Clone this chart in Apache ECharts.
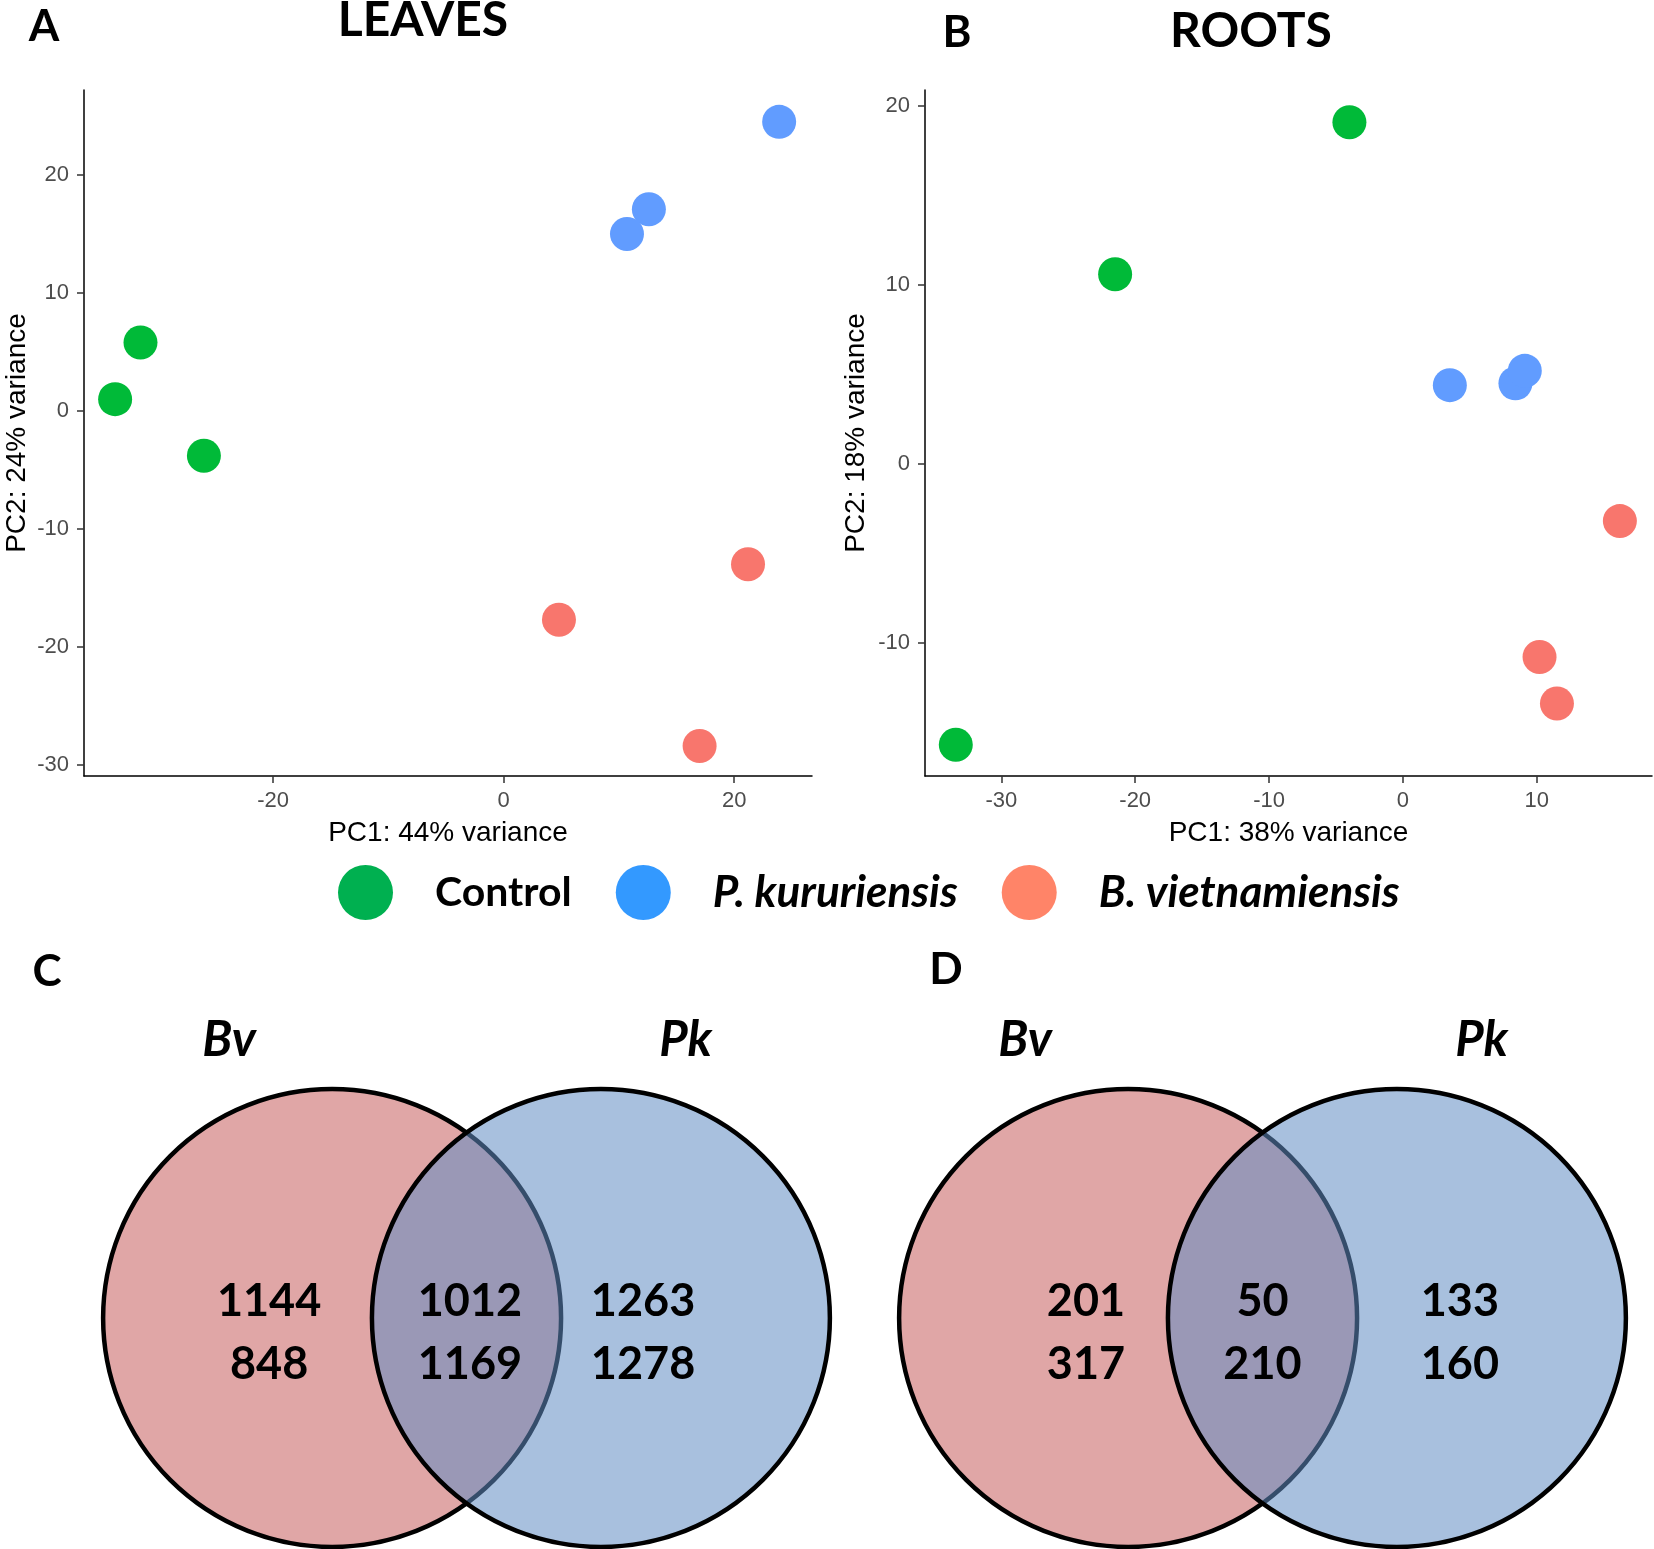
<!DOCTYPE html>
<html>
<head>
<meta charset="utf-8">
<script src="https://cdn.jsdelivr.net/npm/echarts@6/dist/echarts.min.js"></script>
<style>
html, body { margin: 0; padding: 0; background: #fff; }
#main { width: 1654px; height: 1549px; }
</style>
</head>
<body>
<div id="main"></div>
<script>
// PCA scores (PC1, PC2), leaves
var leavesControl = [[-31.5, 5.8], [-33.7, 1.0], [-26.0, -3.8]];
var leavesPk = [[23.9, 24.5], [12.6, 17.1], [10.7, 15.0]];
var leavesBv = [[21.2, -13.0], [4.8, -17.7], [17.0, -28.4]];
// PCA scores, roots
var rootsControl = [[-4.0, 19.1], [-21.5, 10.6], [-33.4, -15.7]];
var rootsPk = [[3.5, 4.4], [8.4, 4.5], [9.1, 5.2]];
var rootsBv = [[16.2, -3.2], [10.2, -10.8], [11.5, -13.4]];

var leavesXTicks = [-20, 0, 20];
var leavesYTicks = [-30, -20, -10, 0, 10, 20];
var rootsXTicks = [-30, -20, -10, 0, 10];
var rootsYTicks = [-10, 0, 10, 20];

var groups = ['Control', 'P. kururiensis', 'B. vietnamiensis'];

// DEG counts (two numbers per region)
var vennSets = ['Bv', 'Pk'];
var leavesBvOnly = [1144, 848];
var leavesShared = [1012, 1169];
var leavesPkOnly = [1263, 1278];
var rootsBvOnly = [201, 317];
var rootsShared = [50, 210];
var rootsPkOnly = [133, 160];

// colours / layout
var pointColors = ['#00BA38', '#619CFF', '#F8766D'];
var legendColors = ['#00B050', '#3399FF', '#FF8468'];
var vennFill = ['#E0A6A6', 'rgba(97,140,195,0.55)'];
var vennCenters = [-0.587, 0.587];
var setLabelDx = [-0.45, 0.37];
var setLabelY = 1.215;
var countY = -0.065;
var leavesCountX = [-0.862, 0.015, 0.771];
var rootsCountX = [-0.771, 0, 0.862];

var FONT = 'Lato, "Open Sans", sans-serif';
var AXFONT = '"Liberation Sans", Arial, sans-serif';

var myChart = echarts.init(document.getElementById('main'));

function pcaX(idx, min, max, ticks, name) {
    return {
        type: 'value', gridIndex: idx, min: min, max: max,
        name: name, nameLocation: 'middle', nameGap: 43,
        nameTextStyle: { fontFamily: AXFONT, fontSize: 28, color: '#000' },
        splitLine: { show: false },
        axisLine: { onZero: false, lineStyle: { color: '#000', width: 1.5 } },
        axisTick: { length: 7, lineStyle: { color: '#333', width: 1.5 }, customValues: ticks },
        axisLabel: { margin: 14, fontFamily: AXFONT, fontSize: 22, color: '#4D4D4D', customValues: ticks }
    };
}
function pcaY(idx, min, max, ticks, name, gap) {
    return {
        type: 'value', gridIndex: idx, min: min, max: max,
        name: name, nameLocation: 'middle', nameGap: gap, nameRotate: 90,
        nameTextStyle: { fontFamily: AXFONT, fontSize: 28, color: '#000' },
        splitLine: { show: false },
        axisLine: { onZero: false, lineStyle: { color: '#000', width: 1.5 } },
        axisTick: { length: 7, lineStyle: { color: '#333', width: 1.5 }, customValues: ticks },
        axisLabel: { margin: 15, fontFamily: AXFONT, fontSize: 22, color: '#4D4D4D', customValues: ticks }
    };
}
function hiddenAxis(idx, min, max) {
    return { type: 'value', gridIndex: idx, min: min, max: max, show: false };
}

function scatter(name, data, idx, color) {
    return {
        type: 'scatter', name: name, xAxisIndex: idx, yAxisIndex: idx,
        data: data, symbolSize: 34, itemStyle: { color: color, opacity: 1 }
    };
}

function vennCircles(idx) {
    return {
        type: 'custom', xAxisIndex: idx, yAxisIndex: idx, silent: true,
        data: vennSets.map(function (s, i) { return [vennCenters[i], 0, 1, i]; }),
        renderItem: function (params, api) {
            var i = api.value(3);
            var c = api.coord([api.value(0), api.value(1)]);
            var r = api.size([api.value(2), 0])[0];
            var lp = api.coord([api.value(0) + setLabelDx[i], setLabelY]);
            return {
                type: 'group',
                children: [{
                    type: 'circle',
                    shape: { cx: c[0], cy: c[1], r: r },
                    style: { fill: vennFill[i], stroke: '#000', lineWidth: 4.5 }
                }, {
                    type: 'text', x: lp[0], y: lp[1],
                    style: {
                        text: vennSets[i], align: 'center', verticalAlign: 'middle',
                        font: 'italic bold 49px ' + FONT, fill: '#000'
                    }
                }]
            };
        }
    };
}

function vennCounts(idx, xs, only1, shared, only2) {
    var regions = [only1, shared, only2];
    return {
        type: 'custom', xAxisIndex: idx, yAxisIndex: idx, silent: true, z: 5,
        data: regions.map(function (v, i) { return [xs[i], countY, v[0], v[1]]; }),
        renderItem: function (params, api) {
            var p = api.coord([api.value(0), api.value(1)]);
            return {
                type: 'text', x: p[0], y: p[1],
                style: {
                    text: api.value(2) + '\n' + api.value(3),
                    align: 'center', verticalAlign: 'middle',
                    font: 'bold 45px ' + FONT, lineHeight: 63, fill: '#000'
                }
            };
        }
    };
}

function label(text, x, y, size) {
    return {
        type: 'text', x: x, y: y,
        style: { text: text, font: 'bold ' + size + 'px ' + FONT, fill: '#000', align: 'center', verticalAlign: 'middle' }
    };
}

option = {
    animation: false,
    backgroundColor: '#fff',
    textStyle: { fontFamily: FONT },
    graphic: [
        label('A', 44, 27, 44),
        label('LEAVES', 423, 21, 48),
        label('B', 957, 33, 44),
        label('ROOTS', 1251, 32, 48),
        label('C', 47, 972, 44),
        label('D', 946, 970, 44)
    ],
    legend: {
        data: groups.map(function (g, i) { return { name: g, itemStyle: { color: legendColors[i] } }; }),
        left: 333, top: 860,
        icon: 'circle', itemWidth: 55, itemHeight: 55, itemGap: 44,
        selectedMode: false,
        formatter: function (n) { return (n === 'Control' ? '{n|' : '{i|') + n + '}'; },
        textStyle: {
            rich: {
                n: { fontFamily: FONT, fontWeight: 'bold', fontSize: 41, color: '#000', padding: [0, 0, 0, 37] },
                i: { fontFamily: FONT, fontWeight: 'bold', fontStyle: 'italic', fontSize: 44, color: '#000', padding: [0, 0, 0, 37] }
            }
        }
    },
    grid: [
        { left: 84, top: 90, width: 728, height: 686, containLabel: false, outerBoundsMode: 'none' },
        { left: 925, top: 90, width: 727, height: 686, containLabel: false, outerBoundsMode: 'none' },
        { left: 103, top: 1089, width: 727, height: 458, containLabel: false, outerBoundsMode: 'none' },
        { left: 899, top: 1089, width: 727, height: 458, containLabel: false, outerBoundsMode: 'none' }
    ],
    xAxis: [
        pcaX(0, -36.4, 26.75, leavesXTicks, 'PC1: 44% variance'),
        pcaX(1, -35.7, 18.6, rootsXTicks, 'PC1: 38% variance'),
        hiddenAxis(2, -1.5875, 1.5875),
        hiddenAxis(3, -1.5875, 1.5875)
    ],
    yAxis: [
        pcaY(0, -30.94, 27.2, leavesYTicks, 'PC2: 24% variance', 53),
        pcaY(1, -17.45, 20.9, rootsYTicks, 'PC2: 18% variance', 55),
        hiddenAxis(2, -1, 1),
        hiddenAxis(3, -1, 1)
    ],
    series: [
        scatter(groups[0], leavesControl, 0, pointColors[0]),
        scatter(groups[1], leavesPk, 0, pointColors[1]),
        scatter(groups[2], leavesBv, 0, pointColors[2]),
        scatter(groups[0], rootsControl, 1, pointColors[0]),
        scatter(groups[1], rootsPk, 1, pointColors[1]),
        scatter(groups[2], rootsBv, 1, pointColors[2]),
        vennCircles(2),
        vennCircles(3),
        vennCounts(2, leavesCountX, leavesBvOnly, leavesShared, leavesPkOnly),
        vennCounts(3, rootsCountX, rootsBvOnly, rootsShared, rootsPkOnly)
    ]
};

myChart.setOption(option);
</script>
</body>
</html>
